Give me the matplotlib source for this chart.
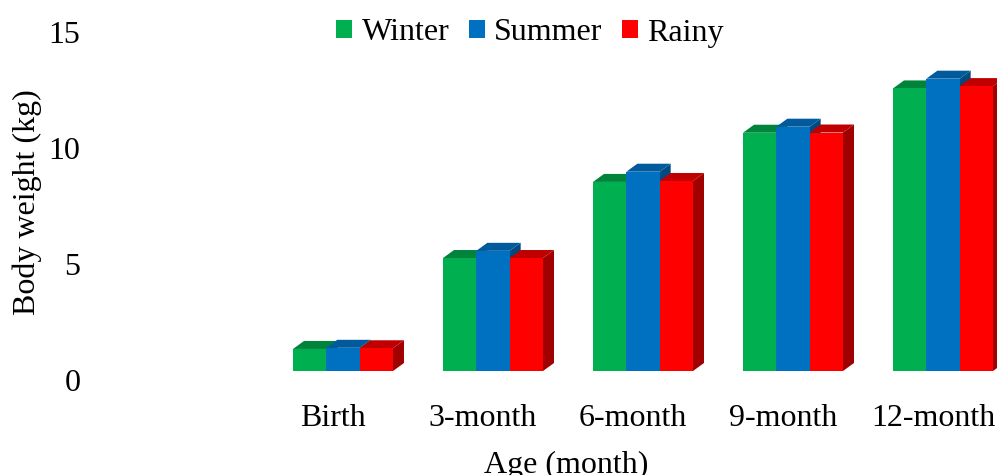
import matplotlib
matplotlib.use("Agg")
import matplotlib.pyplot as plt
import matplotlib.transforms as mtransforms
from matplotlib.patches import Polygon, Patch
import numpy as np

plt.rcParams['font.family'] = ['Liberation Serif', 'DejaVu Serif']

# Data
categories = ["Birth", "3-month", "6-month", "9-month", "12-month"]
seasons = ["Winter", "Summer", "Rainy"]
winter = [0.95, 4.87, 8.15, 10.27, 12.18]
summer = [1.00, 5.18, 8.59, 10.53, 12.60]
rainy = [0.98, 4.87, 8.19, 10.28, 12.28]
series = [winter, summer, rainy]

front_colors = ["#00B050", "#0070C0", "#FF0000"]
top_colors = ["#00843C", "#005A9C", "#C00000"]
side_colors = ["#006B30", "#004A80", "#A00000"]

FS = 23
W, H, DPI = 997, 475, 100
fig = plt.figure(figsize=(W / DPI, H / DPI), dpi=DPI)

# axes placement in pixels
ax_left, ax_right = 100, 997
ax_bottom, ax_top = 371, 23
ax = fig.add_axes([ax_left / W, (H - ax_bottom) / H,
                   (ax_right - ax_left) / W, (ax_bottom - ax_top) / H])

px_per_cat = 150.0
first_center_px = 343.0
x0 = -(first_center_px - ax_left) / px_per_cat
ax.set_xlim(x0, x0 + (ax_right - ax_left) / px_per_cat)
ax.set_ylim(0, 15)

px_per_unit = (ax_bottom - ax_top) / 15.0
group_w = 100.0 / px_per_cat
bar_w = group_w / 3
dx = 11.0 / px_per_cat
dy = 8.0 / px_per_unit

for ci in range(len(categories)):
    left0 = ci - group_w / 2
    for si, vals in enumerate(series):
        h = vals[ci]
        xl = left0 + si * bar_w
        xr = xl + bar_w
        side = Polygon([(xr, 0), (xr + dx, dy), (xr + dx, h + dy), (xr, h)],
                       closed=True, facecolor=side_colors[si], edgecolor="none",
                       clip_on=False, zorder=3)
        top = Polygon([(xl, h), (xr, h), (xr + dx, h + dy), (xl + dx, h + dy)],
                      closed=True, facecolor=top_colors[si], edgecolor="none",
                      clip_on=False, zorder=3)
        ax.add_patch(side)
        ax.add_patch(top)
        ax.bar(xl, h, width=bar_w, align="edge", color=front_colors[si],
               edgecolor="none", zorder=3, clip_on=False)

for sp in ax.spines.values():
    sp.set_visible(False)

ax.set_xticks(range(len(categories)))
ax.set_xticklabels(categories, fontsize=FS)
ax.tick_params(axis="x", length=0, pad=24)
xoff = mtransforms.ScaledTranslation(-10 / DPI, 0, fig.dpi_scale_trans)
for lab in ax.get_xticklabels():
    lab.set_transform(lab.get_transform() + xoff)

ax.set_yticks([0, 5, 10, 15])
ax.set_yticklabels(["0", "5", "10", "15"], fontsize=FS)
ax.tick_params(axis="y", length=0, pad=14)
yoff = mtransforms.ScaledTranslation(0, -9 / DPI, fig.dpi_scale_trans)
for lab in ax.get_yticklabels():
    lab.set_transform(lab.get_transform() + yoff)

fig.text(27 / W, 1 - 202 / H, "Body weight (kg)", rotation=90,
         ha="center", va="center", fontsize=FS)
fig.text(566 / W, 1 - 465 / H, "Age (month)", ha="center", va="center",
         fontsize=FS)

handles = [Patch(facecolor=c, edgecolor="none") for c in front_colors]
fig.legend(handles, seasons, loc="center", bbox_to_anchor=(530 / W, 1 - 33 / H),
           ncol=3, frameon=False, fontsize=FS, handlelength=0.5,
           handleheight=0.5, handletextpad=0.3, columnspacing=0.6,
           borderpad=0, borderaxespad=0)

fig.savefig("out.png", dpi=DPI)
